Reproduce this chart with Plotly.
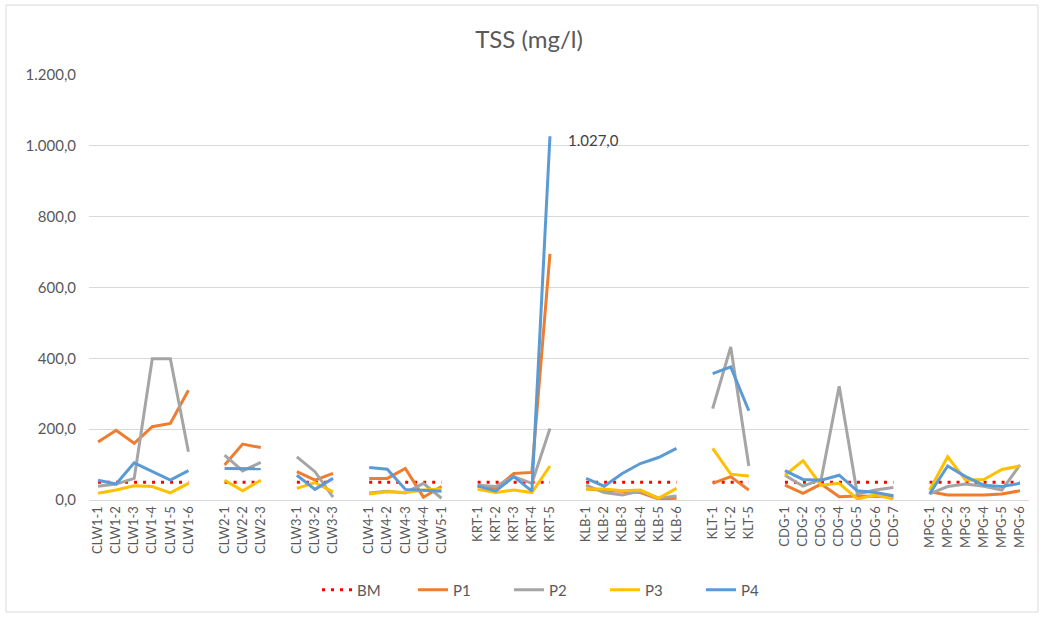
import plotly.graph_objects as go

# Categories (blank entries separate the groups)
groups = [
    ["CLW1-1", "CLW1-2", "CLW1-3", "CLW1-4", "CLW1-5", "CLW1-6"],
    ["CLW2-1", "CLW2-2", "CLW2-3"],
    ["CLW3-1", "CLW3-2", "CLW3-3"],
    ["CLW4-1", "CLW4-2", "CLW4-3", "CLW4-4", "CLW5-1"],
    ["KRT-1", "KRT-2", "KRT-3", "KRT-4", "KRT-5"],
    ["KLB-1", "KLB-2", "KLB-3", "KLB-4", "KLB-5", "KLB-6"],
    ["KLT-1", "KLT-2", "KLT-5"],
    ["CDG-1", "CDG-2", "CDG-3", "CDG-4", "CDG-5", "CDG-6", "CDG-7"],
    ["MPG-1", "MPG-2", "MPG-3", "MPG-4", "MPG-5", "MPG-6"],
]

BM_value = 50

P1 = [
    [164, 197, 160, 207, 216, 310],
    [99, 158, 148],
    [80, 56, 75],
    [61, 61, 89, 8, 38],
    [38, 33, 75, 78, 695],
    [31, 28, 25, 21, 3, 5],
    [47, 66, 28],
    [42, 19, 45, 9, 11, 9, 9],
    [23, 14, 14, 14, 17, 26],
]
P2 = [
    [39, 45, 61, 399, 399, 136],
    [127, 82, 106],
    [122, 80, 8],
    [20, 25, 20, 47, 5],
    [42, 38, 66, 47, 202],
    [42, 21, 14, 25, 5, 11],
    [258, 432, 96],
    [70, 39, 58, 321, 17, 28, 35],
    [17, 38, 45, 39, 28, 99],
]
P3 = [
    [19, 28, 40, 38, 20, 47],
    [56, 26, 56],
    [33, 49, 23],
    [17, 23, 21, 28, 31],
    [30, 21, 28, 21, 96],
    [31, 31, 26, 28, 5, 33],
    [146, 73, 68],
    [70, 111, 42, 47, 3, 14, 3],
    [28, 122, 56, 58, 86, 96],
]
P4 = [
    [56, 45, 105, 80, 56, 83],
    [89, 89, 88],
    [70, 30, 61],
    [92, 87, 30, 28, 25],
    [40, 25, 66, 25, 1027],
    [61, 39, 75, 103, 120, 146],
    [357, 376, 252],
    [83, 58, 56, 70, 26, 21, 12],
    [17, 96, 66, 42, 38, 47],
]

# Build flat category list with unique blank separators
cats, ticktext = [], []
def flatten(series):
    out = []
    for gi, g in enumerate(series):
        out.extend(g)
        if gi < len(series) - 1:
            out.append(None)
    return out

for gi, g in enumerate(groups):
    cats.extend(g)
    ticktext.extend(g)
    if gi < len(groups) - 1:
        cats.append(" " * (gi + 1))
        ticktext.append("")

bm = flatten([[BM_value] * len(g) for g in groups])
p1, p2, p3, p4 = flatten(P1), flatten(P2), flatten(P3), flatten(P4)

def fmt(v):
    s = f"{v:,.1f}"
    return s.replace(",", "X").replace(".", ",").replace("X", ".")

vmax = max(v for v in p4 if v is not None)
imax = p4.index(vmax)

FONT = "Lato, Carlito, Calibri, sans-serif"
fig = go.Figure()
fig.add_trace(go.Scatter(x=cats, y=bm, name="BM", mode="lines",
                         line=dict(color="#FF0000", width=3, dash="3px,6px"),
                         connectgaps=False))
fig.add_trace(go.Scatter(x=cats, y=p1, name="P1", mode="lines",
                         line=dict(color="#ED7D31", width=3), connectgaps=False))
fig.add_trace(go.Scatter(x=cats, y=p2, name="P2", mode="lines",
                         line=dict(color="#A5A5A5", width=3), connectgaps=False))
fig.add_trace(go.Scatter(x=cats, y=p3, name="P3", mode="lines",
                         line=dict(color="#FFC000", width=3), connectgaps=False))
fig.add_trace(go.Scatter(x=cats, y=p4, name="P4", mode="lines",
                         line=dict(color="#5B9BD5", width=3), connectgaps=False))

fig.add_annotation(x=cats[imax], y=vmax, text=fmt(vmax), showarrow=False,
                   xanchor="left", yanchor="middle", xshift=16, yshift=-4,
                   font=dict(size=15, color="#404040", family=FONT))

ml, mr, mt, mb = 89, 12, 75, 117
W, H = 1041, 617
pw, ph = W - ml - mr, H - mt - mb

fig.update_layout(
    width=W, height=H,
    margin=dict(l=ml, r=mr, t=mt, b=mb, autoexpand=False),
    paper_bgcolor="white", plot_bgcolor="white",
    separators=",.",
    font=dict(family=FONT, color="#595959", size=12),
    title=dict(text="TSS (mg/l)", x=529 / W, xref="container", xanchor="center",
               y=1 - 40 / H, yref="container", yanchor="middle",
               font=dict(size=24, color="#595959", family=FONT)),
    showlegend=True,
    legend=dict(orientation="h", x=(557 - ml) / pw, xanchor="center",
                y=-90 / ph, yanchor="middle",
                font=dict(size=15, color="#595959", family=FONT),
                entrywidth=51, entrywidthmode="pixels"),
    xaxis=dict(type="category", categoryorder="array", categoryarray=cats,
               tickmode="array", tickvals=cats, ticktext=ticktext,
               tickangle=-90, tickfont=dict(size=13, color="#595959"),
               range=[-0.5, len(cats) - 0.5], automargin=False,
               showgrid=False, showline=True, linecolor="#D9D9D9", linewidth=1,
               ticks=""),
    yaxis=dict(range=[0, 1200], dtick=200, tickformat=",.1f", automargin=False,
               showgrid=True, gridcolor="#D9D9D9", gridwidth=1,
               zeroline=False, showline=False, ticks="",
               tickfont=dict(size=15, color="#595959"),
               ticklabelstandoff=12),
)

# chart border
fig.add_shape(type="rect", xref="paper", yref="paper",
              x0=(6 - ml) / pw, x1=(W - 3 - ml) / pw,
              y0=(H - mb - (H - 5)) / ph, y1=(H - mb - 5) / ph,
              line=dict(color="#D9D9D9", width=1), layer="below")

fig.write_html("out.html", config={"displayModeBar": False},
               post_script="document.body.style.margin='0';")
